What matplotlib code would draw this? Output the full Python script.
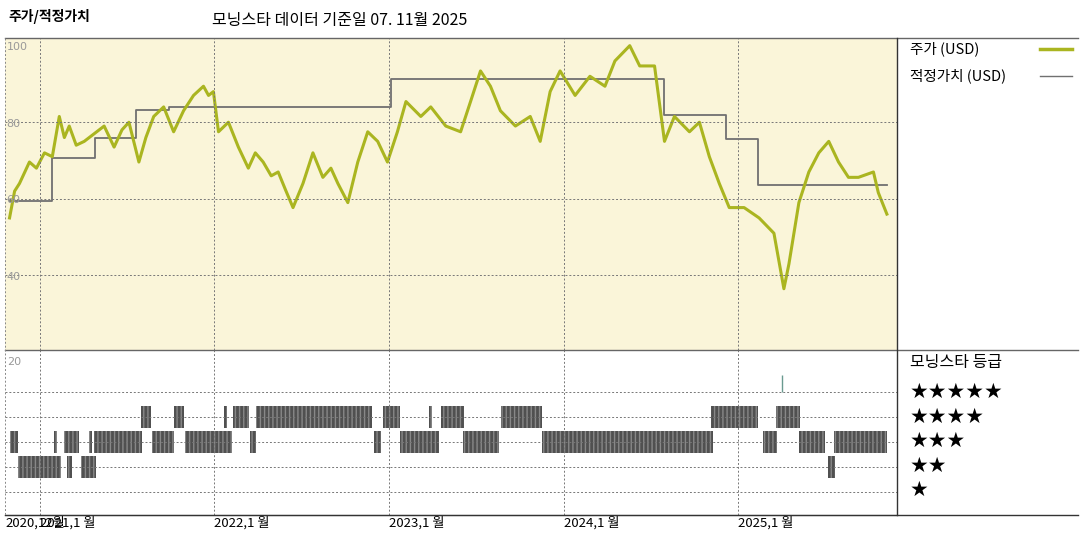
import numpy as np
import matplotlib.pyplot as plt
from matplotlib.lines import Line2D

plt.rcParams['font.family'] = ['Noto Sans CJK KR', 'DejaVu Sans']

# price (decimal year, USD)
price_t = [2020.826, 2020.855, 2020.883, 2020.940, 2020.980, 2021.026, 2021.071, 2021.111, 2021.140, 2021.168,
           2021.208, 2021.254, 2021.311, 2021.368, 2021.425, 2021.470, 2021.510, 2021.567, 2021.607, 2021.652,
           2021.709, 2021.766, 2021.823, 2021.880, 2021.937, 2021.966, 2021.994, 2022.023, 2022.080, 2022.137,
           2022.194, 2022.234, 2022.279, 2022.325, 2022.365, 2022.410, 2022.450, 2022.507, 2022.564, 2022.621,
           2022.667, 2022.707, 2022.764, 2022.821, 2022.878, 2022.935, 2022.991, 2023.048, 2023.097, 2023.182,
           2023.239, 2023.325, 2023.410, 2023.467, 2023.524, 2023.581, 2023.638, 2023.724, 2023.809, 2023.866,
           2023.923, 2023.980, 2024.066, 2024.151, 2024.237, 2024.294, 2024.379, 2024.436, 2024.521, 2024.578,
           2024.635, 2024.721, 2024.778, 2024.835, 2024.892, 2024.949, 2025.034, 2025.120, 2025.205, 2025.262,
           2025.291, 2025.348, 2025.405, 2025.462, 2025.519, 2025.575, 2025.632, 2025.689, 2025.775, 2025.803,
           2025.852]
price_v = [55, 62, 64, 69.6, 68, 72, 71, 81.5, 76, 79,
           74, 75, 77, 79, 73.5, 78, 80, 69.6, 76, 81.5,
           84, 77.5, 83, 87, 89.4, 87, 88, 77.5, 80, 73.5,
           68, 72, 69.6, 66, 67, 62, 57.7, 64, 72, 65.6,
           68, 64, 59, 69.6, 77.5, 75, 69.6, 77.5, 85.4, 81.5,
           84, 79, 77.5, 85.4, 93.4, 89.4, 83, 79, 81.5, 75,
           88, 93.4, 87, 92, 89.4, 96, 100, 94.7, 94.7, 75,
           81.5, 77.5, 80, 71, 64, 57.7, 57.7, 55, 51, 36.5,
           43, 59, 67, 72, 75, 69.6, 65.6, 65.6, 67, 61.6,
           56]

# fair value steps
fv_t = [2020.826, 2021.071, 2021.316, 2021.550, 2021.738, 2023.009, 2024.578, 2024.929, 2025.111, 2025.852]
fv_v = [59.3, 70.6, 75.9, 83.3, 84.1, 91.3, 82.0, 75.7, 63.5, 63.5]

# star rating periods (start, end, stars)
rating_periods = [
    (2020.826, 2020.877, 3), (2020.877, 2021.123, 2), (2021.083, 2021.100, 3), (2021.140, 2021.225, 3),
    (2021.157, 2021.185, 2), (2021.236, 2021.322, 2), (2021.282, 2021.299, 3), (2021.311, 2021.584, 3),
    (2021.578, 2021.635, 4), (2021.641, 2021.766, 3), (2021.766, 2021.823, 4), (2021.829, 2022.103, 3),
    (2022.057, 2022.074, 4), (2022.108, 2022.199, 4), (2022.205, 2022.239, 3), (2022.239, 2022.900, 4),
    (2022.912, 2022.952, 3), (2022.963, 2023.060, 4), (2023.060, 2023.288, 3), (2023.231, 2023.248, 4),
    (2023.299, 2023.430, 4), (2023.425, 2023.630, 3), (2023.641, 2023.875, 4), (2023.875, 2024.855, 3),
    (2024.843, 2025.111, 4), (2025.145, 2025.225, 3), (2025.214, 2025.356, 4), (2025.350, 2025.499, 3),
    (2025.516, 2025.556, 2), (2025.550, 2025.852, 3),
]
five_star_tick = 2025.254

years = [2021, 2022, 2023, 2024, 2025]
year_labels = ['2021,1 월', '2022,1 월', '2023,1 월', '2024,1 월', '2025,1 월']
x0, x1 = 2020.80, 2025.91

fig = plt.figure(figsize=(10.8, 5.4), dpi=100)
W, H = 1080, 540
ax1 = fig.add_axes([5/W, (540-350)/H, 892/W, 312/H])
ax2 = fig.add_axes([5/W, (540-515)/H, 892/W, 165/H])

grid_kw = dict(color='#777777', linestyle=(0, (2, 2)), linewidth=0.7)

ax1.set_facecolor('#faf5d9')
ax1.plot(fv_t, fv_v, drawstyle='steps-post', color='#707070', linewidth=1.3)
ax1.plot(price_t, price_v, color='#aab520', linewidth=2.2)
ax1.set_xlim(x0, x1)
ax1.set_ylim(20.5, 102)
for v in [40, 60, 80]:
    ax1.axhline(v, **grid_kw)
for y in years:
    ax1.axvline(y, **grid_kw)
for v in [40, 60, 80, 100]:
    ax1.text(x0 + 0.01, v - 1.2, str(v), color='#999999', fontsize=8, family='DejaVu Sans')
ax1.set_xticks([]); ax1.set_yticks([])

ax2.set_xlim(x0, x1)
ax2.set_ylim(0.08, 6.68)
for s in [1, 2, 3, 4, 5]:
    ax2.axhline(s, **grid_kw)
for y in years:
    ax2.axvline(y, **grid_kw)
for a, b, s in rating_periods:
    ax2.broken_barh([(a, b - a)], (s - 0.45, 0.9), facecolor='#505050', edgecolor='#888888',
                    hatch='||||', linewidth=0)
ax2.vlines(five_star_tick, 5.0, 5.7, color='#6a9a90', linewidth=1)
ax2.text(x0 + 0.01, 6.2, '20', color='#999999', fontsize=8, va='center', family='DejaVu Sans')
ax2.set_yticks([])
ax2.set_xticks([x0 + 0.005] + years)
ax2.set_xticklabels(['2020,12월'] + year_labels, ha='left', fontsize=9.5)
ax2.tick_params(axis='x', length=0, pad=1)

for a in (ax1, ax2):
    for sp in a.spines.values():
        sp.set_visible(False)
ax2.spines['bottom'].set_visible(True)
ax2.spines['bottom'].set_color('#333333')

# frame lines
fig.add_artist(Line2D([5/W, 1078/W], [1-38/H, 1-38/H], color='#666666', lw=1))
fig.add_artist(Line2D([5/W, 1078/W], [1-350/H, 1-350/H], color='#666666', lw=1))
fig.add_artist(Line2D([5/W, 1078/W], [1-515/H, 1-515/H], color='#333333', lw=1))
fig.add_artist(Line2D([897/W, 897/W], [1-38/H, 1-515/H], color='#333333', lw=1))
fig.add_artist(Line2D([5/W, 5/W], [1-38/H, 1-515/H], color='#888888', lw=0.7, ls=(0, (2, 2))))

fig.text(8/W, 1-17/H, '주가/적정가치', fontsize=10, fontweight='bold', va='center')
fig.text(212/W, 1-20/H, '모닝스타 데이터 기준일 07. 11월 2025', fontsize=11.5, va='center')

fig.text(910/W, 1-49/H, '주가 (USD)', fontsize=10.5, va='center')
fig.add_artist(Line2D([1040/W, 1072/W], [1-49/H, 1-49/H], color='#aab520', lw=2.5))
fig.text(910/W, 1-76/H, '적정가치 (USD)', fontsize=10.5, va='center')
fig.add_artist(Line2D([1040/W, 1072/W], [1-76/H, 1-76/H], color='#707070', lw=1))

fig.text(910/W, 1-363/H, '모닝스타 등급', fontsize=11.5, va='center')
for i, n in enumerate([5, 4, 3, 2, 1]):
    fig.text(910/W, 1-(392 + i*24.5)/H, '★' * n, fontsize=15, va='center', family='DejaVu Sans')

fig.savefig('out.png', dpi=100)
